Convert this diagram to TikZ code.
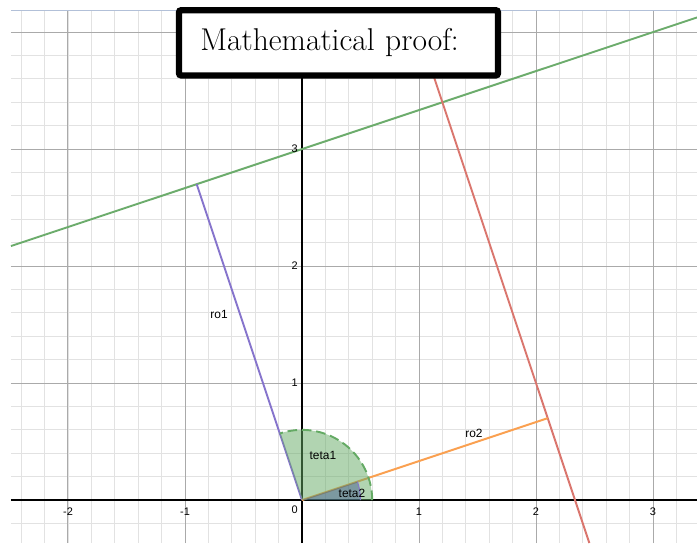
\documentclass[tikz,border=0pt]{standalone}
\usepackage{fontspec}
\usepackage{tikz}
\usetikzlibrary{positioning}
\usetikzlibrary{calc}
\newfontfamily\graphfont{Liberation Sans}
\definecolor{gridminor}{RGB}{226,226,226}
\definecolor{gridmajor}{RGB}{170,170,170}
\definecolor{frameblue}{RGB}{178,192,216}
\definecolor{lineGreen}{RGB}{108,172,108}
\definecolor{lineRed}{RGB}{218,118,110}
\definecolor{lineRoOne}{RGB}{134,116,204}
\definecolor{lineRoTwo}{RGB}{250,160,80}
\definecolor{sectorGreen}{RGB}{100,170,100}
\definecolor{sectorBlue}{RGB}{60,80,140}
\tikzstyle{minorgrid}=[draw=gridminor,line width=0.7pt,step=0.2]
\tikzstyle{majorgrid}=[draw=gridmajor,line width=0.7pt,step=1]
\tikzstyle{axis}=[draw=black,line width=1.1pt]
\tikzstyle{curve}=[line width=1.4pt]
\tikzstyle{ticklabel}=[font=\graphfont\fontsize{8}{9.5}\selectfont,inner sep=1pt]
\tikzstyle{mathlabel}=[font=\graphfont\fontsize{8.7}{10}\selectfont,inner sep=0pt]
\tikzstyle{titlebox}=[draw=black,fill=white,line width=4.5pt,rounded corners=1.5pt,
	minimum height=47.6pt,text width=201.5pt,inner xsep=15.6pt,align=left,
	font=\fontsize{23}{27}\selectfont]

\begin{document}
\begin{tikzpicture}[scale=3]
		\useasboundingbox (-2.581,-0.367) rectangle (3.376,4.274);
		% plotting area
		\coordinate (LL) at (-2.487,-0.367);
		\coordinate (UR) at (3.376,4.188);
		\draw[minorgrid] (LL) grid (UR);
		\draw[majorgrid] (LL) grid (UR);
		\draw[draw=frameblue,line width=0.8pt] (LL|-UR)--(UR);
		\draw[axis] (LL|-0,0)--(UR|-0,0);
		\draw[axis] (0,0|-LL)--(0,0|-UR);
		% points
		\coordinate (O) at (0,0);
		\coordinate (P1) at (-0.9,2.7);
		\coordinate (P2) at (2.1,0.7);
		\coordinate (G1) at (-2.487,2.171);
		\coordinate (G2) at (3.376,4.125);
		\coordinate (R1) at (0.937,4.188);
		\coordinate (R2) at (2.456,-0.367);
		% lines
		\draw[curve,lineGreen] (G1)--(G2);
		\draw[curve,lineRed] (R1)--(R2);
		\draw[curve,lineRoOne] (O)--(P1);
		\draw[curve,lineRoTwo] (O)--(P2);
		% angles
		\fill[sectorGreen,opacity=0.5] (O)--++(0:0.6) arc[start angle=0,end angle=108.43,radius=0.6]--cycle;
		\fill[sectorBlue,opacity=0.45] (O)--++(0:0.5) arc[start angle=0,end angle=18.43,radius=0.5]--cycle;
		\draw[sectorGreen,line width=1.4pt,dash pattern=on 7pt off 3.5pt] (O)++(0:0.6) arc[start angle=0,end angle=108.43,radius=0.6];
		\draw[lineRoOne,line width=0.7pt] (O)++(0:0.5) arc[start angle=0,end angle=18.43,radius=0.5];
		% labels
		\foreach \x in {-2,-1,1,2,3} {
			\node[ticklabel,below=4.5pt] (xl\x) at (\x,0) {\x};}
		\foreach \y in {1,2,3} {
			\node[ticklabel,left=2pt] (yl\y) at (0,\y) {\y};}
		\node[ticklabel,anchor=north east,xshift=-2pt,yshift=-3pt] (xl0) at (O) {0};
		\node[mathlabel] (ro1) at (-0.709,1.590) {ro1};
		\node[mathlabel] (ro2) at (1.470,0.573) {ro2};
		\node[mathlabel] (teta1) at (0.179,0.385) {teta1};
		\node[mathlabel] (teta2) at (0.427,0.060) {teta2};
		\node[titlebox] (title) at (0.312,3.908) {Mathematical proof:};
	\end{tikzpicture}
\end{document}
